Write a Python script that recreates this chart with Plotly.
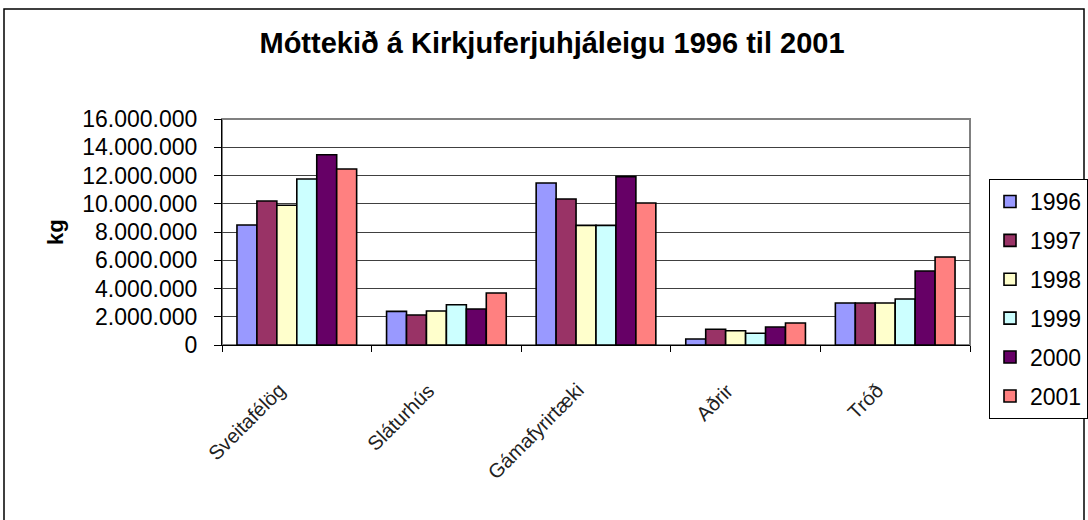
import plotly.graph_objects as go

categories = ["Sveitafélög", "Sláturhús", "Gámafyrirtæki", "Aðrir", "Tróð"]
years = ["1996", "1997", "1998", "1999", "2000", "2001"]
v1996 = [8500000, 2380000, 11470000, 420000, 2970000]
v1997 = [10190000, 2120000, 10340000, 1110000, 2970000]
v1998 = [9890000, 2410000, 8470000, 1010000, 2970000]
v1999 = [11750000, 2850000, 8470000, 830000, 3260000]
v2000 = [13470000, 2550000, 11920000, 1270000, 5240000]
v2001 = [12460000, 3680000, 10050000, 1560000, 6230000]
series = [v1996, v1997, v1998, v1999, v2000, v2001]
colors = ["#9999FF", "#993366", "#FFFFCC", "#CCFFFF", "#660066", "#FF8080"]
y_ticks = [0, 2000000, 4000000, 6000000, 8000000, 10000000, 12000000, 14000000, 16000000]

W, H = 1088, 520
L, R, T, B = 222, 118, 119, 175
pw, ph = W - L - R, H - T - B

def px(x):
    return (x - L) / pw

def py(y):
    return (H - B - y) / ph

fig = go.Figure()
for yr, vals, col in zip(years, series, colors):
    fig.add_trace(go.Bar(
        x=categories, y=vals, name=yr, legendgroup=yr,
        marker=dict(color=col, line=dict(color="black", width=1.6)),
    ))

font = "Liberation Sans, Arial, sans-serif"

annotations = [dict(text="<b>kg</b>", xref="paper", yref="paper",
                    x=px(55), y=py(232), xanchor="center", yanchor="middle",
                    textangle=-90, showarrow=False,
                    font=dict(family=font, size=22, color="black"))]
for i, c in enumerate(categories):
    annotations.append(dict(text=c, xref="x", yref="paper", x=i, y=py(376),
                            xanchor="right", yanchor="top", xshift=-5,
                            textangle=-45, showarrow=False,
                            font=dict(family=font, size=20, color="#222")))

fig.update_layout(
    width=W, height=H,
    margin=dict(l=L, r=R, t=T, b=B, autoexpand=False),
    paper_bgcolor="white", plot_bgcolor="white",
    barmode="group", bargap=0.2, bargroupgap=0,
    separators=",.",
    title=dict(text="<b>Móttekið á Kirkjuferjuhjáleigu 1996 til 2001</b>",
               x=552 / W, xanchor="center", y=1 - 43 / H, yanchor="middle",
               font=dict(family=font, size=29, color="black")),
    showlegend=True,
    legend=dict(xref="container", yref="container",
                x=989 / W, y=1 - 179 / H, xanchor="left", yanchor="top",
                bordercolor="black", borderwidth=1, bgcolor="white",
                font=dict(family=font, size=23, color="black"),
                tracegroupgap=6, itemwidth=30),
    xaxis=dict(type="category", showline=True, linecolor="black", linewidth=1,
               automargin=False,
               ticks="outside", tickson="boundaries", ticklen=6, tickcolor="black",
               showticklabels=False,
               showgrid=False, range=[-0.5, 4.5]),
    yaxis=dict(range=[0, 16000000], tickvals=y_ticks, tickformat=",d",
               automargin=False,
               showline=True, linecolor="black", linewidth=1,
               ticks="outside", ticklen=7, tickcolor="black", ticklabelstandoff=12,
               tickfont=dict(family=font, size=23, color="black"),
               showgrid=True, gridcolor="#404040", gridwidth=1, zeroline=False),
    annotations=annotations,
    shapes=[
        dict(type="rect", xref="paper", yref="paper", x0=0, x1=1, y0=0, y1=1,
             line=dict(color="#808080", width=2), layer="below"),
        dict(type="rect", xref="paper", yref="paper",
             x0=px(4), x1=px(1084), y0=py(525), y1=py(9),
             line=dict(color="black", width=1.5)),
    ],
)

fig.write_html("out.html", config={"displayModeBar": False},
               post_script="document.body.style.margin='0';")
